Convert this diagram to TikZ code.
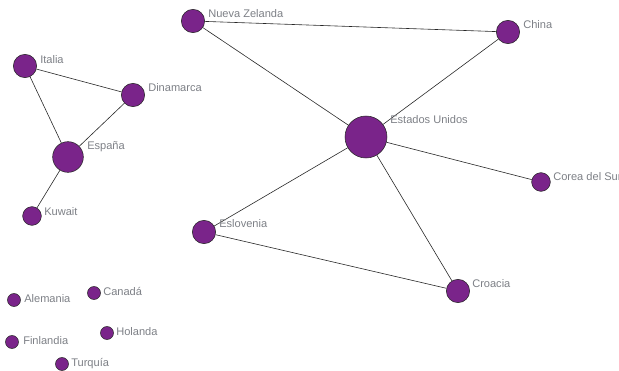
\documentclass[tikz,border=0pt]{standalone}
\usepackage{fontspec}
\setmainfont{Liberation Sans}
\definecolor{nodefill}{RGB}{122,36,138}
\definecolor{labelgray}{RGB}{125,128,134}
\definecolor{edgegray}{RGB}{40,40,40}
\begin{document}
\begin{tikzpicture}[x=0.75pt,y=-0.75pt,
  vtx/.style={circle,draw=black!85,line width=0.4pt,fill=nodefill,inner sep=0pt},
  s6/.style={vtx,minimum size=9.75pt},
  s9/.style={vtx,minimum size=14pt},
  s12/.style={vtx,minimum size=17.5pt},
  s15/.style={vtx,minimum size=23pt},
  s21/.style={vtx,minimum size=31.5pt},
  lbl/.style={anchor=base west,inner sep=0pt,text=labelgray,font=\fontsize{8.3pt}{10pt}\selectfont},
  edge/.style={draw=edgegray,line width=0.45pt}]
\useasboundingbox (0,0) rectangle (619,371);
% nodes
\node[s12] (nz) at (193,21) {};
\node[s12] (cn) at (508,32) {};
\node[s12] (it) at (25,66) {};
\node[s12] (dk) at (133,95) {};
\node[s15] (es) at (68,157) {};
\node[s21] (us) at (366,137) {};
\node[s9] (kr) at (541,182) {};
\node[s9] (kw) at (32,216) {};
\node[s12] (si) at (204,232) {};
\node[s12] (hr) at (458,291) {};
\node[s6] (de) at (14,300) {};
\node[s6] (ca) at (94,293) {};
\node[s6] (nl) at (107,333) {};
\node[s6] (fi) at (12,342) {};
\node[s6] (tr) at (62,364) {};
% edges
\draw[edge] (nz) -- (cn);
\draw[edge] (nz) -- (us);
\draw[edge] (cn) -- (us);
\draw[edge] (us) -- (kr);
\draw[edge] (us) -- (si);
\draw[edge] (us) -- (hr);
\draw[edge] (si) -- (hr);
\draw[edge] (it) -- (dk);
\draw[edge] (it) -- (es);
\draw[edge] (dk) -- (es);
\draw[edge] (es) -- (kw);
% labels
\node[lbl] (lnz) at (208,17) {Nueva Zelanda};
\node[lbl] (lcn) at (523,28) {China};
\node[lbl] (lit) at (40,63) {Italia};
\node[lbl] (ldk) at (148,91) {Dinamarca};
\node[lbl] (les) at (87,149) {España};
\node[lbl] (lus) at (390,123) {Estados Unidos};
\node[lbl] (lkr) at (553,180) {Corea del Sur};
\node[lbl] (lkw) at (44,215) {Kuwait};
\node[lbl] (lsi) at (219,227) {Eslovenia};
\node[lbl] (lhr) at (472,287) {Croacia};
\node[lbl] (lde) at (24,302) {Alemania};
\node[lbl] (lca) at (103,295) {Canadá};
\node[lbl] (lnl) at (116,335) {Holanda};
\node[lbl] (lfi) at (23,344) {Finlandia};
\node[lbl] (ltr) at (71,366) {Turquía};
\end{tikzpicture}
\end{document}
